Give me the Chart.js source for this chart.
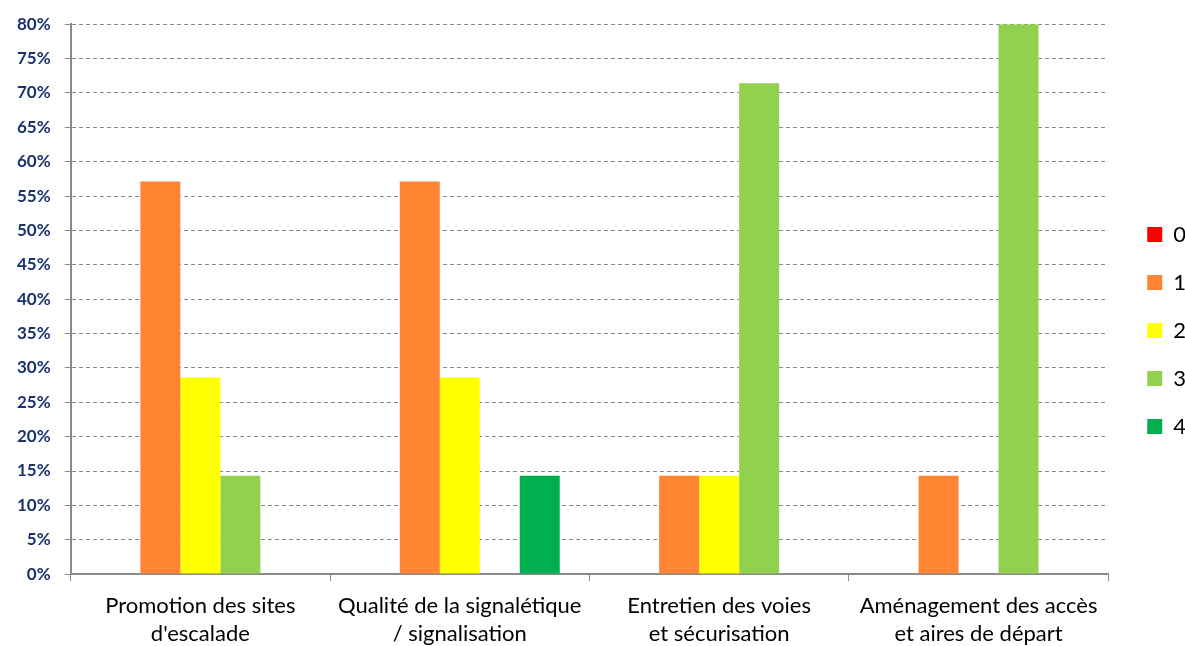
<!DOCTYPE html>
<html>
<head>
<meta charset="utf-8">
<script src="https://cdn.jsdelivr.net/npm/chart.js@4"></script>
<style>
  body { margin: 0; background: #fff; }
  #wrap { width: 1185px; height: 646px; }
</style>
</head>
<body>
<div id="wrap"><canvas id="scoreChart" width="1185" height="646"></canvas></div>
<script>
const categories = [
    ['Promotion des sites', "d'escalade"],
    ['Qualité de la signalétique', '/ signalisation'],
    ['Entretien des voies', 'et sécurisation'],
    ['Aménagement des accès', 'et aires de départ']
]
const seriesNames = ['0', '1', '2', '3', '4']
const score0 = [0, 0, 0, 0]
const score1 = [57.1, 57.1, 14.3, 14.3]
const score2 = [28.6, 28.6, 14.3, 0]
const score3 = [14.3, 0, 71.4, 80]
const score4 = [0, 14.3, 0, 0]
const seriesColors = ['#FF0000', '#FF8533', '#FFFF00', '#92D050', '#00B050']
const yTicks = { min: 0, max: 80, step: 5 }

const grey = '#8a8a8a'
const navy = '#1A3370'

// nudges the legend block to where Excel puts it
const legendShift = {
    id: 'legendShift',
    afterLayout(chart) {
        const lg = chart.legend
        if (!lg) return
        const dx = 13, dy = -11
        lg.left += dx; lg.right += dx
        lg.top += dy; lg.bottom += dy
    }
}

const seriesData = [score0, score1, score2, score3, score4]

new Chart(document.getElementById('scoreChart'), {
    type: 'bar',
    data: {
        labels: categories,
        datasets: seriesNames.map((name, i) => ({
            label: name,
            data: seriesData[i],
            backgroundColor: seriesColors[i],
            categoryPercentage: 0.771,
            barPercentage: 1
        }))
    },
    options: {
        responsive: false,
        animation: false,
        layout: { padding: { left: 3, top: 24, right: 2, bottom: -13 } },
        plugins: {
            tooltip: { enabled: false },
            legend: {
                position: 'right',
                labels: {
                    boxWidth: 15,
                    boxHeight: 15,
                    padding: 26,
                    color: '#000',
                    font: { family: 'Lato', size: 22 }
                }
            }
        },
        scales: {
            x: {
                grid: {
                    offset: true,
                    drawOnChartArea: false,
                    color: grey,
                    tickLength: 7
                },
                border: { color: grey, width: 2 },
                ticks: {
                    color: '#000',
                    padding: 11,
                    maxRotation: 0,
                    font: { family: 'Lato', size: 22, lineHeight: 1.27 }
                }
            },
            y: {
                min: yTicks.min,
                max: yTicks.max,
                grid: { color: grey, tickLength: 6 },
                border: { color: grey, width: 2, dash: [4, 3] },
                ticks: {
                    stepSize: yTicks.step,
                    padding: 14,
                    color: navy,
                    font: { family: 'Lato', size: 17, weight: 'bold' },
                    callback: (v) => v + '%'
                }
            }
        }
    },
    plugins: [legendShift]
})
</script>
</body>
</html>
